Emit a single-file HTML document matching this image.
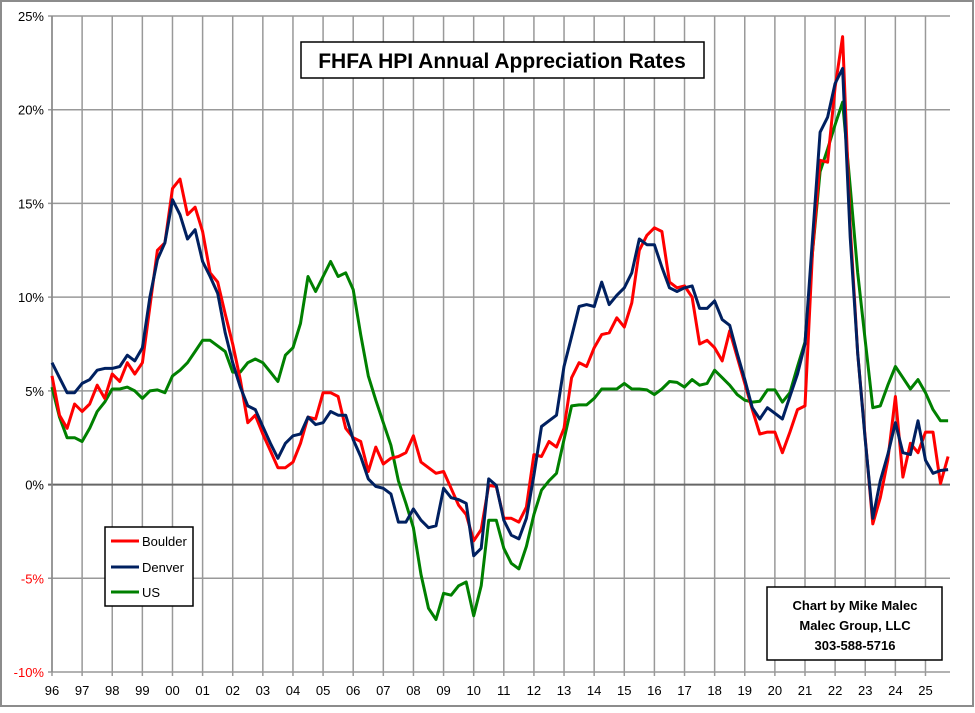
<!DOCTYPE html>
<html><head><meta charset="utf-8"><style>
body{margin:0;background:#fff}
svg text{font-family:"Liberation Sans",sans-serif}
</style></head><body>
<svg width="975" height="708" viewBox="0 0 975 708">
<rect x="1" y="1" width="972" height="705" fill="#fff" stroke="#8c8c8c" stroke-width="2"/>
<g id="grid"></g>
<g id="yaxis"></g>
<g id="xaxis"></g>
<g id="series"></g>
<g>
<rect x="301" y="42" width="403" height="36" fill="#fff" stroke="#000" stroke-width="1.5"/>
<text x="502" y="68" text-anchor="middle" font-size="21" font-weight="bold">FHFA HPI Annual Appreciation Rates</text>
</g>
<g>
<rect x="105" y="527" width="88" height="79" fill="#fff" stroke="#000" stroke-width="1.5"/>
<line x1="111" y1="541" x2="139" y2="541" stroke="#ff0000" stroke-width="3"/>
<text x="142" y="546" font-size="13">Boulder</text>
<line x1="111" y1="567" x2="139" y2="567" stroke="#002060" stroke-width="3"/>
<text x="142" y="572" font-size="13">Denver</text>
<line x1="111" y1="592" x2="139" y2="592" stroke="#008000" stroke-width="3"/>
<text x="142" y="597" font-size="13">US</text>
</g>
<g>
<rect x="767" y="587" width="175" height="73" fill="#fff" stroke="#000" stroke-width="1.5"/>
<text x="855" y="610" text-anchor="middle" font-size="13" font-weight="bold">Chart by Mike Malec</text>
<text x="855" y="630" text-anchor="middle" font-size="13" font-weight="bold">Malec Group, LLC</text>
<text x="855" y="650" text-anchor="middle" font-size="13" font-weight="bold">303-588-5716</text>
</g>
</svg>
<script>
const yearLabels=["96","97","98","99","00","01","02","03","04","05","06","07","08","09","10","11","12","13","14","15","16","17","18","19","20","21","22","23","24","25"];
const yTicks=[25,20,15,10,5,0,-5,-10];
const boulder=[5.8,3.7,3.0,4.3,3.9,4.3,5.3,4.6,5.9,5.5,6.5,5.9,6.5,9.5,12.5,12.9,15.8,16.3,14.4,14.8,13.5,11.3,10.8,9.1,7.5,5.6,3.3,3.7,2.7,1.8,0.9,0.9,1.2,2.2,3.6,3.5,4.9,4.9,4.7,3.0,2.5,2.3,0.7,2.0,1.1,1.4,1.5,1.7,2.6,1.2,0.9,0.6,0.7,-0.2,-1.1,-1.6,-3.0,-2.4,-0.05,-0.1,-1.8,-1.8,-2.0,-1.2,1.6,1.5,2.3,2.0,3.0,5.7,6.5,6.3,7.3,8.0,8.1,8.9,8.4,9.7,12.5,13.3,13.7,13.5,10.8,10.5,10.6,10.0,7.5,7.7,7.3,6.6,8.2,6.8,5.4,4.0,2.7,2.8,2.8,1.7,2.8,4.0,4.2,12.4,17.3,17.2,21.2,23.9,13.8,7.0,2.5,-2.1,-0.7,1.3,4.7,0.4,2.2,1.7,2.8,2.8,0.05,1.5];
const denver=[6.5,5.7,4.9,4.9,5.4,5.6,6.1,6.2,6.2,6.3,6.9,6.6,7.3,10.0,12.0,12.9,15.2,14.4,13.1,13.6,11.9,11.1,10.2,8.1,6.5,5.2,4.2,4.0,3.1,2.2,1.4,2.2,2.6,2.7,3.6,3.2,3.3,3.9,3.7,3.7,2.4,1.5,0.3,-0.1,-0.2,-0.5,-2.0,-2.0,-1.3,-1.9,-2.3,-2.2,-0.2,-0.7,-0.8,-1.0,-3.8,-3.4,0.3,-0.05,-1.9,-2.7,-2.9,-1.8,0.5,3.1,3.4,3.7,6.3,7.9,9.5,9.6,9.5,10.8,9.6,10.1,10.5,11.3,13.1,12.8,12.8,11.6,10.5,10.3,10.5,10.6,9.4,9.4,9.8,8.8,8.5,7.0,5.6,4.1,3.5,4.1,3.8,3.5,4.7,5.9,7.5,13.1,18.8,19.6,21.4,22.2,13.2,7.0,2.4,-1.8,0.2,1.6,3.3,1.7,1.6,3.4,1.3,0.6,0.75,0.8];
const us=[5.2,3.6,2.5,2.5,2.3,3.0,3.9,4.4,5.1,5.1,5.2,5.0,4.6,5.0,5.05,4.9,5.8,6.1,6.5,7.1,7.7,7.7,7.4,7.1,6.0,6.0,6.5,6.7,6.5,6.0,5.5,6.9,7.3,8.6,11.1,10.3,11.1,11.9,11.1,11.3,10.4,8.0,5.8,4.5,3.3,2.1,0.2,-1.0,-2.3,-4.8,-6.6,-7.2,-5.8,-5.9,-5.4,-5.2,-7.0,-5.4,-1.9,-1.9,-3.4,-4.2,-4.5,-3.3,-1.6,-0.3,0.2,0.6,2.4,4.2,4.25,4.25,4.6,5.1,5.1,5.1,5.4,5.1,5.1,5.05,4.8,5.1,5.5,5.45,5.2,5.6,5.3,5.4,6.1,5.7,5.3,4.8,4.5,4.4,4.45,5.05,5.05,4.4,4.9,6.3,7.6,12.4,16.7,17.9,19.2,20.4,15.9,11.3,7.7,4.1,4.2,5.3,6.3,5.7,5.1,5.6,4.9,4.0,3.4,3.4];
const NS="http://www.w3.org/2000/svg";
const L=52,R=950,T=16,B=672,yMin=-10,yMax=25,xStep=30.12/4;
function xq(i){return L+i*xStep;}
function yv(v){return B-(v-yMin)/(yMax-yMin)*(B-T);}
function mk(tag,attrs,parent){const e=document.createElementNS(NS,tag);for(const k in attrs)e.setAttribute(k,attrs[k]);parent.appendChild(e);return e;}
const grid=document.getElementById('grid'),ya=document.getElementById('yaxis'),xa=document.getElementById('xaxis'),ser=document.getElementById('series');
yearLabels.forEach((lab,k)=>{
  const x=xq(k*4);
  const g=mk('line',{x1:x,y1:T,x2:x,y2:B+4,stroke:'#999',"stroke-width":1.5},grid);
  
  
  const t=mk('text',{x:x,y:695,"text-anchor":"middle","font-size":13,fill:'#000'},xa);
  t.textContent=lab;
  
  
});
yTicks.forEach(v=>{
  const y=yv(v);
  const g=mk('line',{x1:L-4,y1:y,x2:R,y2:y,stroke:v===0?'#666':'#999',"stroke-width":v===0?2:1.5},grid);
  
  
  const t=mk('text',{x:L-8,y:y+5,"text-anchor":"end","font-size":13,fill:v<0?'#ff0000':'#000'},ya);
  t.textContent=v+'%';
  
  
});
mk('line',{x1:L,y1:T,x2:L,y2:B,stroke:'#888',"stroke-width":1.5},grid);
function draw(arr,color,name){
  const p=mk('polyline',{points:arr.map((v,i)=>xq(i).toFixed(1)+','+yv(v).toFixed(1)).join(' '),fill:'none',stroke:color,"stroke-width":3,"stroke-linejoin":"round"},ser);
  
  
}
draw(us,'#008000','us-line');
draw(boulder,'#ff0000','boulder-line');
draw(denver,'#002060','denver-line');
</script>
</body></html>
